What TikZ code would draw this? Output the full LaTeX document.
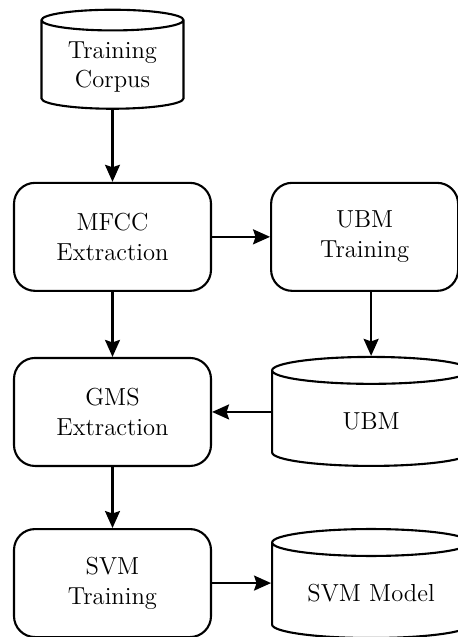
\documentclass[tikz,border=0pt]{standalone}
\usepackage{tikz}
\usetikzlibrary{
    positioning,
    arrows.meta,
    shapes.geometric
}

\begin{document}
\begin{tikzpicture}[
    stage/.style={rectangle, draw, line width=1.2pt, rounded corners=0.42cm, align=center, minimum width=3.94cm, minimum height=2.16cm, font=\fontsize{14}{17}\selectfont},
    store/.style={cylinder, shape border rotate=90, draw, line width=1.2pt, aspect=0.19, align=center, text width=2.6cm, minimum width=3.96cm, minimum height=2.18cm, font=\fontsize{14}{17}\selectfont},
    flow/.style={line width=1.2pt, -{Stealth[length=0.34cm, width=0.3cm, inset=0.05cm]}},
]
\useasboundingbox (0,0) rectangle (9.16,-12.74);

\node[store, aspect=0.17, text width=2.2cm, minimum width=2.84cm, minimum height=1.98cm] (corpus) at (2.25,-1.34) {Training\\Corpus};

\node[stage, below=1.44cm of corpus] (mfcc) {MFCC\\Extraction};
\node[stage, right=1.16cm of mfcc, minimum width=3.74cm] (ubmtrain) {UBM\\Training};
\node[stage, below=1.3cm of mfcc] (gms) {GMS\\Extraction};
\node[store, right=1.18cm of gms, yshift=-0.18cm] (ubm) {UBM};
\node[stage, below=1.22cm of gms] (svmtrain) {SVM\\Training};
\node[store, right=1.18cm of svmtrain, yshift=-0.2cm] (svm) {SVM Model};

% connectors
\draw[flow] (corpus) -- (mfcc);
\draw[flow] (mfcc) -- (ubmtrain);
\draw[flow] (mfcc) -- (gms);
\draw[flow] (ubmtrain.south -| ubm.north) -- (ubm.north);
\draw[flow] (ubm.west |- gms.east) -- (gms.east);
\draw[flow] (gms) -- (svmtrain);
\draw[flow] (svmtrain.east) -- (svmtrain.east -| svm.west);
\end{tikzpicture}
\end{document}
